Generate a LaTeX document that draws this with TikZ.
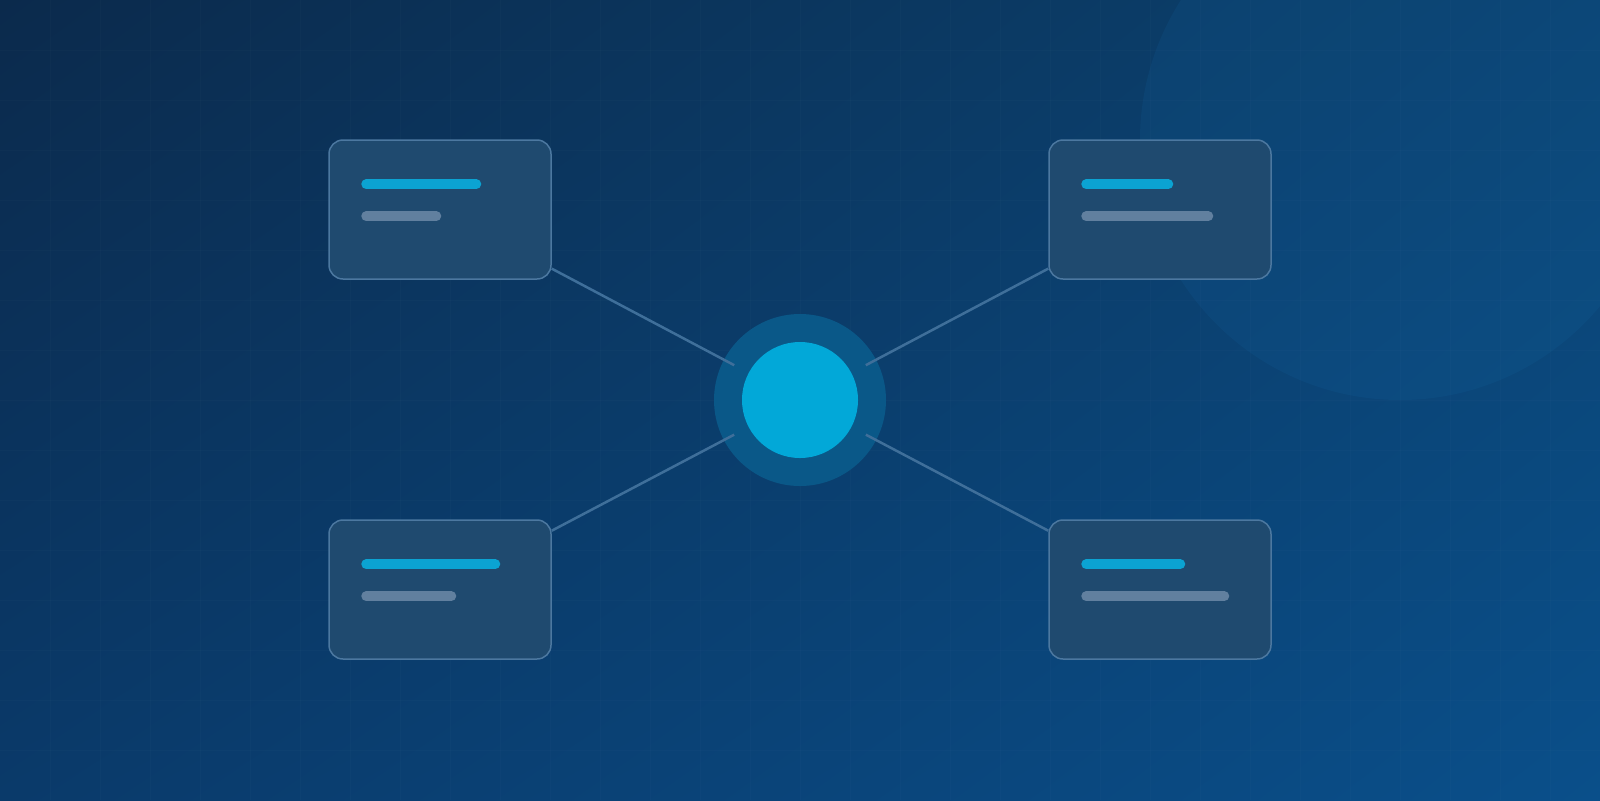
\documentclass[tikz,border=0pt]{standalone}
\usepackage{tikz}
\usetikzlibrary{calc}
\usetikzlibrary{shadings}
\usetikzlibrary{positioning}

\definecolor{bgA}{HTML}{0B2A4C}
\definecolor{bgB}{HTML}{0B4270}
\definecolor{bgC}{HTML}{0A3A6A}
\definecolor{bgD}{HTML}{0A4F8A}
\definecolor{cardfill}{HTML}{1F4A6F}
\definecolor{cardline}{HTML}{4C78A0}
\definecolor{accent}{HTML}{0BA3D2}
\definecolor{muted}{HTML}{61809F}
\definecolor{linkcol}{HTML}{3F6F9A}
\definecolor{ringcol}{HTML}{0A5888}
\definecolor{corecol}{HTML}{02A8D8}

\tikzset{
  card/.style={draw=cardline, line width=0.75pt, fill=cardfill, rounded corners=7pt,
    minimum width=111pt, minimum height=69.5pt, inner sep=0pt},
  link/.style={draw=linkcol, line width=1.25pt, shorten >=8pt},
  bar/.style={line width=5pt, line cap=round},
  gridline/.style={draw=white, opacity=0.015, line width=0.5pt}
}

\begin{document}
\begin{tikzpicture}[x=0.5pt, y=-0.5pt]
		\useasboundingbox (0,0) rectangle (1600,800);
		\shade[upper left=bgA, upper right=bgB, lower left=bgC, lower right=bgD] (0,0) rectangle (1600,800);
		\fill[fill={rgb,255:red,20;green,110;blue,175}, opacity=0.13] (1400,140) circle (260);
		\foreach \x in {50,100,...,1550} \draw[gridline] (\x,0) -- (\x,800);
		\foreach \y in {50,100,...,750} \draw[gridline] (0,\y) -- (1600,\y);
		
		\node[circle, fill=ringcol, minimum size=86pt, inner sep=0pt] (hub) at (800,400) {};
		\node[circle, fill=corecol, minimum size=58pt, inner sep=0pt] (core) at (800,400) {};
		
		\node[card] (TL) at (440,209.5) {};
		\node[card] (TR) at (1160,209.5) {};
		\node[card] (BL) at (440,589.5) {};
		\node[card] (BR) at (1160,589.5) {};
		
		\foreach \n/\a/\b in {TL/110/70, TR/82/122, BL/129/85, BR/94/138} {
			\draw[bar, accent] ($(\n.north west)+(38,45)$) -- ++(\a,0);
			\draw[bar, muted] ($(\n.north west)+(38,77)$) -- ++(\b,0);
		}
		
		\draw[link] (TL) -- (core);
		\draw[link] (TR) -- (core);
		\draw[link] (BL) -- (core);
		\draw[link] (BR) -- (core);
		\end{tikzpicture}
\end{document}
